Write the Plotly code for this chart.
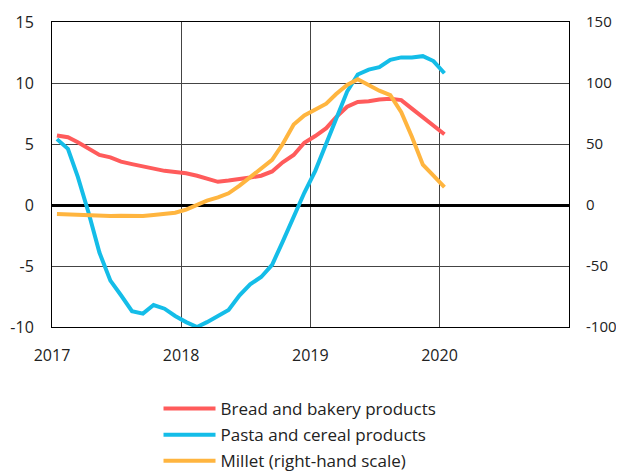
import plotly.graph_objects as go

months = [f"{2017 + i // 12}-{i % 12 + 1:02d}-15" for i in range(37)]

bread = [5.7, 5.55, 5.15, 4.6, 4.1, 3.9, 3.55, 3.35, 3.15, 3.0, 2.8, 2.7,
         2.6, 2.4, 2.15, 1.9, 2.0, 2.1, 2.25, 2.4, 2.75, 3.5, 4.1, 5.1,
         5.65, 6.3, 7.2, 8.05, 8.45, 8.5, 8.65, 8.7, 8.6, 7.9, 7.2, 6.45,
         5.8]
pasta = [5.4, 4.6, 2.3, -0.7, -3.9, -6.2, -7.4, -8.7, -8.9, -8.2, -8.5, -9.1,
         -9.6, -10.0, -9.6, -9.1, -8.6, -7.4, -6.5, -5.9, -4.9, -3.0, -1.0, 1.0,
         2.8, 5.0, 7.2, 9.3, 10.7, 11.1, 11.3, 11.9, 12.1, 12.1, 12.2, 11.8,
         10.8]
millet = [-7.4, -7.7, -8.2, -8.8, -9.0, -9.0, -8.8, -9.3, -9.0, -8.2, -7.4, -6.3,
          -3.8, 0.0, 3.6, 6.3, 9.6, 15.9, 22.7, 29.6, 37.0, 50.0, 66.0, 73.4,
          77.8, 83.0, 91.0, 98.4, 103.0, 98.0, 93.7, 90.0, 76.0, 56.0, 33.0, 24.0,
          14.6]

left_ticks = [-10, -5, 0, 5, 10, 15]
right_ticks = [-100, -50, 0, 50, 100, 150]
year_ticks = ["2017-01-01", "2018-01-01", "2019-01-01", "2020-01-01"]
year_labels = ["2017", "2018", "2019", "2020"]

FONT = "Open Sans"
fig = go.Figure()
fig.add_trace(go.Scatter(x=months, y=bread, mode="lines", name="Bread and bakery products",
                         line=dict(color="#FF5B5B", width=4), legendgroup="a"))
fig.add_trace(go.Scatter(x=months, y=pasta, mode="lines", name="Pasta and cereal products",
                         line=dict(color="#14BDE8", width=4), legendgroup="b"))
fig.add_trace(go.Scatter(x=months, y=millet, mode="lines", name="Millet (right-hand scale)",
                         line=dict(color="#FFB53F", width=4), yaxis="y2", legendgroup="c"))

# The page body has an 8px margin, so the figure is offset by 8px in the window.
fig.update_layout(
    width=624, height=463,
    margin=dict(l=44, r=63, t=14, b=144, autoexpand=False),
    paper_bgcolor="white", plot_bgcolor="white",
    font=dict(family=FONT, size=16, color="#222222"),
    showlegend=True,
    legend=dict(xref="container", yref="container", x=0.2412, xanchor="left",
                y=0.1728, yanchor="top",
                font=dict(size=17), tracegroupgap=1, itemwidth=52,
                bgcolor="rgba(0,0,0,0)"),
    xaxis=dict(type="date", range=["2017-01-01", "2021-01-01"],
               tickvals=year_ticks, ticktext=year_labels,
               showgrid=True, gridcolor="#444444", gridwidth=1,
               showline=True, linecolor="#000000", linewidth=1, mirror=True,
               ticks="", ticklabelstandoff=14, automargin=False),
    yaxis=dict(range=[-10, 15], tickvals=left_ticks, ticktext=[str(v) for v in left_ticks],
               showgrid=True, gridcolor="#444444", gridwidth=1,
               zeroline=True, zerolinecolor="#000000", zerolinewidth=3,
               showline=True, linecolor="#000000", linewidth=1, mirror=True,
               ticks="", ticklabelstandoff=14, automargin=False),
    yaxis2=dict(range=[-100, 150], tickvals=right_ticks, ticktext=[str(v) for v in right_ticks],
                overlaying="y", side="right",
                showgrid=False, zeroline=False, ticks="",
                showline=True, linecolor="#000000", linewidth=1,
                tickfont=dict(size=15),
                ticklabelstandoff=13, automargin=False),
)

fig.write_html("out.html")
